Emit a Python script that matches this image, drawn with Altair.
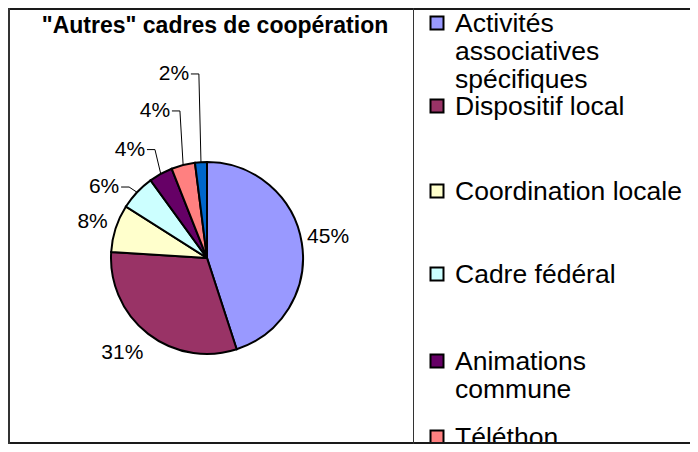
import math
import altair as alt
import pandas as pd

# ---------------- data ----------------
TITLE = "\"Autres\" cadres de coopération"
categories = [
    "Activités associatives spécifiques",
    "Dispositif local",
    "Coordination locale",
    "Cadre fédéral",
    "Animations commune",
    "Téléthon",
    "Autre",
]
shares = [45, 31, 8, 6, 4, 4, 2]
colors = ["#9999FF", "#993366", "#FFFFCC", "#CCFFFF", "#660066", "#FF8080", "#0066CC"]
legend_lines = [
    ["Activités", "associatives", "spécifiques"],
    ["Dispositif local"],
    ["Coordination locale"],
    ["Cadre fédéral"],
    ["Animations", "commune"],
    ["Téléthon"],
]

# ---------------- layout ----------------
FONT = "Liberation Sans"
W, H = 682, 436           # chart area (page x 8..690, y 8..444)
CX, CY, R = 207, 258, 96  # pie centre / radius in page coordinates
LABEL_NUDGE = [-1, 4, -0.5, -8.6, -6.6, -5.1, -6.6]   # degrees
LABEL_RADIUS = [123, 127, 120, 125, 133, 156, 187]
LEADER = [False, False, False, True, True, True, True]
LEGEND_BASE = [32, 115, 200, 283, 370, 446]
LINE_STEP = 28

xs = alt.Scale(domain=[8, 8 + W], nice=False, zero=False)
ys = alt.Scale(domain=[8, 8 + H], nice=False, zero=False, reverse=True)

# ---------------- tables ----------------
pie_df = pd.DataFrame({"cat": categories, "share": shares, "idx": range(len(shares))})

lab_rows, lead_rows = [], []
cum = 0
for i, (c, v) in enumerate(zip(categories, shares)):
    mid = (cum + v / 2) / 100 * 360
    cum += v
    a = math.radians(mid + LABEL_NUDGE[i])
    lx = CX + LABEL_RADIUS[i] * math.sin(a)
    ly = CY - LABEL_RADIUS[i] * math.cos(a)
    lab_rows.append({"t": f"{v}%", "x": lx, "y": ly})
    if LEADER[i]:
        m = math.radians(mid)
        ex = CX + R * math.sin(m)
        ey = CY - R * math.cos(m)
        pts = [(lx + 17, ly), (lx + 25, ly), (ex, ey)]
        for k, (px, py) in enumerate(pts):
            lead_rows.append({"id": i, "k": k, "x": px, "y": py})
lab_df = pd.DataFrame(lab_rows)
lead_df = pd.DataFrame(lead_rows)

leg_txt, leg_sw = [], []
for i, lines in enumerate(legend_lines):
    b = LEGEND_BASE[i]
    leg_sw.append({"cat": categories[i], "x": 437, "y": b - 9})
    for j, ln in enumerate(lines):
        leg_txt.append({"t": ln, "x": 455, "y": b + j * LINE_STEP})
leg_txt_df = pd.DataFrame(leg_txt)
leg_sw_df = pd.DataFrame(leg_sw)

color = alt.Color("cat:N", scale=alt.Scale(domain=categories, range=colors), legend=None)

# ---------------- layers ----------------
pie = alt.Chart(pie_df).mark_arc(outerRadius=R, stroke="black", strokeWidth=2).encode(
    theta=alt.Theta("share:Q", stack=True),
    order=alt.Order("idx:Q"),
    color=color,
    x=alt.value(CX - 8),
    y=alt.value(CY - 8),
)

leaders = alt.Chart(lead_df).mark_line(color="black", strokeWidth=1).encode(
    x=alt.X("x:Q", scale=xs, axis=None),
    y=alt.Y("y:Q", scale=ys, axis=None),
    detail="id:N",
    order="k:Q",
)

labels = alt.Chart(lab_df).mark_text(
    font=FONT, fontSize=21, align="center", baseline="middle", color="black"
).encode(
    x=alt.X("x:Q", scale=xs, axis=None),
    y=alt.Y("y:Q", scale=ys, axis=None),
    text="t:N",
)

title = alt.Chart(pd.DataFrame({"t": [TITLE]})).mark_text(
    font=FONT, fontSize=23, fontWeight="bold", align="center", baseline="alphabetic", color="black"
).encode(text="t:N", x=alt.value(215 - 8), y=alt.value(33 - 8))

swatches = alt.Chart(leg_sw_df).mark_square(
    size=169, filled=True, stroke="black", strokeWidth=2, opacity=1, clip=True
).encode(
    x=alt.X("x:Q", scale=xs, axis=None),
    y=alt.Y("y:Q", scale=ys, axis=None),
    color=color,
)

leg_text = alt.Chart(leg_txt_df).mark_text(
    font=FONT, fontSize=26.5, align="left", baseline="alphabetic", color="black", clip=True
).encode(
    x=alt.X("x:Q", scale=xs, axis=None),
    y=alt.Y("y:Q", scale=ys, axis=None),
    text="t:N",
)

frame_df = pd.DataFrame({"d": [0]})
top_line = alt.Chart(frame_df).mark_rule(color="#1a1a1a", strokeWidth=2).encode(
    x=alt.value(0), x2=alt.value(W), y=alt.value(1))
bottom_line = alt.Chart(frame_df).mark_rule(color="#1a1a1a", strokeWidth=2).encode(
    x=alt.value(0), x2=alt.value(W), y=alt.value(H - 1))
left_line = alt.Chart(frame_df).mark_rule(color="#333333", strokeWidth=2).encode(
    x=alt.value(1), y=alt.value(0), y2=alt.value(H))
divider = alt.Chart(frame_df).mark_rule(color="#333333", strokeWidth=1).encode(
    x=alt.value(413 - 8 + 0.5), y=alt.value(0), y2=alt.value(H))

chart = alt.layer(
    pie, leaders, labels, title, swatches, leg_text, top_line, bottom_line, left_line, divider
).properties(
    width=W, height=H, padding=0, autosize=alt.AutoSizeParams(type="none"), background="white"
).configure_view(strokeWidth=0)

chart.save("out.html", embed_options={"renderer": "svg", "actions": False})
